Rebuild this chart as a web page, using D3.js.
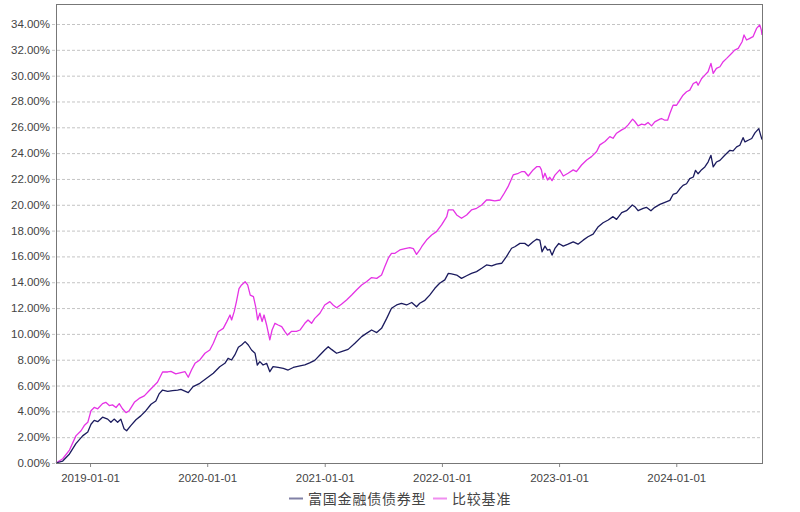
<!DOCTYPE html>
<html><head><meta charset="utf-8">
<script src="https://cdn.jsdelivr.net/npm/d3@7"></script>
<style>body{margin:0;background:#fff}svg{display:block}</style>
</head><body>
<svg id="c" width="800" height="512"></svg>
<script>
const seriesNames = ["富国金融债债券型", "比较基准"];
const seriesColors = ["#1b1b5e", "#e533e5"];
const yTicks = [0,0.02,0.04,0.06,0.08,0.10,0.12,0.14,0.16,0.18,0.20,0.22,0.24,0.26,0.28,0.30,0.32,0.34];
const xTickLabels = ["2019-01-01","2020-01-01","2021-01-01","2022-01-01","2023-01-01","2024-01-01"];
const dateRange = ["2018-09-17","2024-09-24"];

const fundDates = ["2018-09-17","2018-10-08","2018-10-29","2018-11-18","2018-12-09","2018-12-25","2019-01-04","2019-01-14","2019-01-25","2019-02-09","2019-02-25","2019-03-07","2019-03-17","2019-03-28","2019-04-07","2019-04-17","2019-04-25","2019-05-08","2019-05-24","2019-06-08","2019-06-24","2019-07-10","2019-07-25","2019-08-04","2019-08-15","2019-08-31","2019-09-15","2019-10-01","2019-10-11","2019-11-03","2019-11-18","2019-12-09","2019-12-30","2020-01-20","2020-02-09","2020-02-25","2020-03-06","2020-03-17","2020-03-27","2020-04-07","2020-04-17","2020-04-28","2020-05-08","2020-05-18","2020-05-29","2020-06-05","2020-06-13","2020-06-23","2020-07-04","2020-07-14","2020-07-24","2020-08-09","2020-08-25","2020-09-09","2020-09-25","2020-10-16","2020-10-31","2020-11-15","2020-12-01","2020-12-17","2021-01-01","2021-01-12","2021-01-22","2021-02-07","2021-02-22","2021-03-15","2021-04-05","2021-04-26","2021-05-11","2021-05-27","2021-06-12","2021-06-27","2021-07-13","2021-07-28","2021-08-13","2021-08-28","2021-09-13","2021-09-29","2021-10-14","2021-10-24","2021-11-09","2021-11-24","2021-12-10","2021-12-25","2022-01-10","2022-01-21","2022-01-31","2022-02-16","2022-03-03","2022-03-19","2022-04-03","2022-04-19","2022-05-05","2022-05-20","2022-06-05","2022-06-20","2022-07-06","2022-07-21","2022-08-06","2022-08-16","2022-09-01","2022-09-16","2022-09-27","2022-10-12","2022-10-23","2022-11-02","2022-11-09","2022-11-18","2022-11-26","2022-12-03","2022-12-10","2022-12-19","2022-12-31","2023-01-14","2023-01-29","2023-02-14","2023-03-01","2023-03-17","2023-04-01","2023-04-17","2023-05-03","2023-05-18","2023-06-03","2023-06-18","2023-06-29","2023-07-15","2023-07-30","2023-08-17","2023-08-25","2023-09-04","2023-09-20","2023-09-30","2023-10-14","2023-10-26","2023-11-11","2023-12-12","2023-12-22","2024-01-02","2024-01-12","2024-01-22","2024-02-02","2024-02-12","2024-02-23","2024-03-01","2024-03-09","2024-03-20","2024-03-30","2024-04-09","2024-04-18","2024-04-25","2024-05-05","2024-05-16","2024-05-31","2024-06-16","2024-06-26","2024-07-07","2024-07-17","2024-07-27","2024-08-02","2024-08-12","2024-08-23","2024-09-02","2024-09-14","2024-09-20","2024-09-24"];
const fundValues = [0,0.15,0.7,1.5,2.1,2.4,3.0,3.3,3.2,3.55,3.4,3.15,3.4,3.15,3.4,2.65,2.5,2.9,3.35,3.65,4.05,4.55,4.8,5.35,5.65,5.55,5.6,5.65,5.7,5.45,5.91,6.17,6.56,6.95,7.46,7.72,8.11,7.98,8.37,8.96,9.14,9.4,9.14,8.75,8.5,7.59,7.85,7.59,7.72,7.07,7.46,7.4,7.33,7.2,7.4,7.53,7.6,7.75,7.95,8.37,8.75,9.01,8.8,8.5,8.63,8.8,9.27,9.79,10.04,10.3,10.1,10.43,11.2,11.98,12.24,12.37,12.24,12.43,12.1,12.37,12.6,13.0,13.53,13.92,14.18,14.69,14.65,14.56,14.3,14.5,14.69,14.82,15.08,15.34,15.27,15.41,15.47,15.98,16.63,16.75,17.01,17.01,16.8,17.14,17.33,17.27,16.36,16.8,16.49,16.54,16.1,16.62,17.0,16.8,16.95,17.13,16.95,17.26,17.52,17.73,18.3,18.61,18.82,19.08,18.87,19.39,19.54,19.98,19.85,19.54,19.72,19.8,19.54,19.8,20.03,20.34,20.8,20.9,21.24,21.5,21.63,22.02,22.15,22.67,22.4,22.72,22.93,23.31,23.83,22.93,23.31,23.44,23.83,24.22,24.17,24.48,24.61,25.2,24.87,25.0,25.13,25.57,25.9,25.38,25.05];

const benchDates = ["2018-09-17","2018-10-08","2018-10-29","2018-11-18","2018-12-04","2018-12-14","2018-12-25","2019-01-04","2019-01-14","2019-01-25","2019-02-09","2019-02-19","2019-03-02","2019-03-12","2019-03-23","2019-04-02","2019-04-12","2019-04-23","2019-05-03","2019-05-19","2019-06-03","2019-06-19","2019-07-04","2019-07-20","2019-07-30","2019-08-15","2019-08-31","2019-09-10","2019-09-25","2019-10-11","2019-10-24","2019-11-03","2019-11-13","2019-11-24","2019-12-09","2019-12-25","2020-01-09","2020-01-20","2020-02-04","2020-02-20","2020-03-02","2020-03-12","2020-03-17","2020-03-25","2020-04-01","2020-04-09","2020-04-17","2020-04-28","2020-05-06","2020-05-14","2020-05-24","2020-05-31","2020-06-06","2020-06-13","2020-06-20","2020-06-26","2020-07-04","2020-07-14","2020-07-21","2020-07-30","2020-08-09","2020-08-20","2020-08-30","2020-09-07","2020-09-20","2020-10-05","2020-10-16","2020-10-31","2020-11-10","2020-11-21","2020-12-01","2020-12-17","2021-01-01","2021-01-17","2021-01-27","2021-02-07","2021-02-22","2021-03-10","2021-03-26","2021-04-10","2021-04-26","2021-05-11","2021-05-27","2021-06-12","2021-06-27","2021-07-07","2021-07-18","2021-07-28","2021-08-08","2021-08-23","2021-09-08","2021-09-23","2021-10-04","2021-10-14","2021-10-24","2021-10-30","2021-11-14","2021-11-30","2021-12-15","2021-12-31","2022-01-16","2022-01-21","2022-02-05","2022-02-16","2022-03-03","2022-03-19","2022-04-03","2022-04-19","2022-05-05","2022-05-20","2022-05-30","2022-06-15","2022-07-01","2022-07-11","2022-07-26","2022-08-11","2022-08-27","2022-09-06","2022-09-16","2022-09-27","2022-10-12","2022-10-23","2022-11-02","2022-11-07","2022-11-12","2022-11-18","2022-11-26","2022-12-03","2022-12-10","2022-12-19","2022-12-29","2023-01-03","2023-01-14","2023-01-29","2023-02-14","2023-02-24","2023-03-12","2023-03-28","2023-04-12","2023-04-28","2023-05-08","2023-05-24","2023-06-08","2023-06-18","2023-06-29","2023-07-15","2023-07-25","2023-08-04","2023-08-18","2023-08-25","2023-09-04","2023-09-15","2023-09-25","2023-10-05","2023-10-16","2023-10-26","2023-11-11","2023-11-16","2023-11-26","2023-12-05","2023-12-12","2023-12-22","2024-01-02","2024-01-12","2024-01-22","2024-02-02","2024-02-12","2024-02-23","2024-03-04","2024-03-09","2024-03-20","2024-03-30","2024-04-09","2024-04-18","2024-04-25","2024-05-05","2024-05-16","2024-05-26","2024-06-06","2024-06-21","2024-07-01","2024-07-12","2024-07-24","2024-07-30","2024-08-07","2024-08-17","2024-08-27","2024-09-07","2024-09-17","2024-09-22","2024-09-24"];
const benchValues = [0,0.33,1.0,2.1,2.5,2.9,3.15,4.05,4.3,4.2,4.6,4.7,4.45,4.5,4.3,4.6,4.2,3.9,4.05,4.7,5.0,5.2,5.6,6.0,6.25,7.05,7.05,7.1,6.9,7.0,7.07,6.64,7.2,7.72,7.98,8.5,8.75,9.27,10.17,10.43,10.95,11.46,11.08,11.72,12.5,13.5,13.79,14.04,13.79,13.0,12.88,12.1,11.08,11.6,10.95,11.46,10.69,9.53,10.3,10.82,10.69,10.56,10.17,9.91,10.2,10.2,10.3,10.82,11.08,10.82,11.2,11.6,12.24,12.5,12.24,12.03,12.3,12.63,13.01,13.4,13.79,14.04,14.36,14.3,14.56,15.2,15.86,16.24,16.24,16.5,16.6,16.68,16.6,16.16,16.5,16.75,17.27,17.66,17.92,18.44,19.08,19.6,19.6,19.21,18.95,19.21,19.6,19.73,19.98,20.37,20.37,20.3,20.37,20.76,21.4,22.31,22.44,22.56,22.56,22.23,22.7,22.95,22.95,22.7,22.05,22.44,21.92,22.13,21.87,22.3,22.57,22.7,22.23,22.44,22.7,22.57,23.08,23.47,23.73,24.12,24.64,24.9,25.28,25.15,25.54,25.8,25.93,26.19,26.63,26.45,26.11,26.24,26.19,26.37,26.11,26.42,26.63,26.68,26.55,26.55,27.07,27.71,27.71,28.1,28.49,28.75,28.88,29.39,29.52,29.26,29.78,30.04,30.3,30.95,30.17,30.56,30.69,31.08,31.34,31.72,31.98,32.11,32.63,33.15,32.76,32.89,33.02,33.66,33.92,33.53,33.15];

const parse = d3.timeParse("%Y-%m-%d");
const svg = d3.select("#c");
const L = 56, R = 762, T = 4, B = 463;
const x = d3.scaleTime().domain(dateRange.map(parse)).range([L, R]);
const y = d3.scaleLinear().domain([0, 0.3555]).range([B, T]);
const font = "Liberation Sans, Arial, sans-serif";

// grid
svg.append("g").selectAll("line").data(yTicks).join("line")
  .attr("x1", L - 4).attr("x2", R)
  .attr("y1", d => y(d) + 0.5).attr("y2", d => y(d) + 0.5)
  .attr("stroke", "#c4c4c4").attr("stroke-dasharray", "3,2").attr("stroke-width", 1);

// y labels
svg.append("g").selectAll("text").data(yTicks).join("text")
  .attr("x", L - 6).attr("y", d => y(d) + 4)
  .attr("text-anchor", "end").attr("font-family", font).attr("font-size", 11.5)
  .attr("fill", "#444").text(d => d3.format(".2%")(d));

// x axis
const xAxis = d3.axisBottom(x).tickValues(xTickLabels.map(parse)).tickFormat(d3.timeFormat("%Y-%m-%d")).tickSize(4).tickSizeOuter(0);
const gx = svg.append("g").attr("transform", `translate(0,${B})`).call(xAxis);
gx.select(".domain").remove();
gx.selectAll("line").attr("stroke", "#888");
gx.selectAll("text").attr("font-family", font).attr("font-size", 11.5).attr("fill", "#444").attr("dy", "1.05em");

// lines
const line = d3.line().x(d => x(d[0])).y(d => y(d[1] / 100));
const fund = fundDates.map((d, i) => [parse(d), fundValues[i]]);
const bench = benchDates.map((d, i) => [parse(d), benchValues[i]]);
svg.append("path").datum(bench).attr("d", line).attr("fill", "none")
  .attr("stroke", seriesColors[1]).attr("stroke-width", 1.3).attr("stroke-linejoin", "round");
svg.append("path").datum(fund).attr("d", line).attr("fill", "none")
  .attr("stroke", seriesColors[0]).attr("stroke-width", 1.3).attr("stroke-linejoin", "round");

// frame
svg.append("rect").attr("x", L + 0.5).attr("y", T + 0.5).attr("width", R - L).attr("height", B - T)
  .attr("fill", "none").attr("stroke", "#777").attr("stroke-width", 1);

// legend
const leg = [{x: 289, name: seriesNames[0], c: seriesColors[0]}, {x: 433, name: seriesNames[1], c: seriesColors[1]}];
const lg = svg.append("g");
leg.forEach(l => {
  lg.append("line").attr("x1", l.x).attr("x2", l.x + 14).attr("y1", 498.5).attr("y2", 498.5)
    .attr("stroke", l.c).attr("stroke-width", 2).attr("opacity", 0.55);
  lg.append("text").attr("x", l.x + 19).attr("y", 503.5).attr("font-family", "Noto Sans CJK SC, sans-serif")
    .attr("font-size", 14).attr("letter-spacing", 0.8).attr("fill", "#444").text(l.name);
});
</script>
</body></html>
